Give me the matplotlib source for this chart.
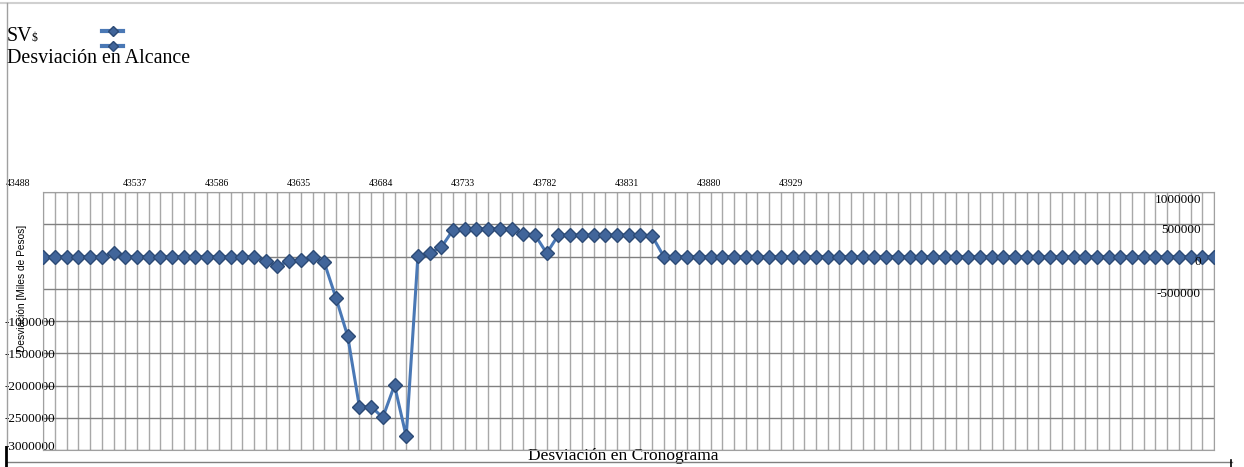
import numpy as np
import matplotlib
matplotlib.use("Agg")
from matplotlib import pyplot as plt
from matplotlib.lines import Line2D
from matplotlib.transforms import ScaledTranslation

# weekly deviation values (pesos)
desviacion = [0, 0, 0, 0, 0, 0, 50000, 0, 0, 0,
              0, 0, 0, 0, 0, 0, 0, 0, 0, -75000,
              -140000, -77000, -62000, -15000, -93000, -643000, -1235000, -2330000, -2330000, -2495000,
              -1996000, -2790000, 10000, 51000, 144000, 412000, 432000, 432000, 432000, 432000,
              432000, 350000, 335000, 51000, 335000, 335000, 335000, 335000, 335000, 335000,
              335000, 335000, 319000] + [0] * 48
week0 = 43482  # excel serial of first week
fechas = week0 + 7 * np.arange(len(desviacion))
top_ticks = [43488, 43537, 43586, 43635, 43684, 43733, 43782, 43831, 43880, 43929]
y_ticks = [1000000, 500000, 0, -500000, -1000000, -1500000, -2000000, -2500000, -3000000]
left_labels = ['', '', '', '', '-1000000', '-1500000', '-2000000', '-2500000', '-3000000']
right_labels = ['1000000', '500000', '0', '-500000', '', '', '', '', '']

W, H = 1244, 467
fig = plt.figure(figsize=(W / 100, H / 100), dpi=100)
ax = fig.add_axes([43.3 / W, 1 - 450 / H, (1214 - 43.3) / W, (450 - 192) / H])

serif = ['Liberation Serif', 'DejaVu Serif']
sans = ['Liberation Sans', 'DejaVu Sans']

ax.plot(fechas, desviacion, color='#4a78b5', lw=2.2, marker='D', ms=7.5,
        mfc='#41659a', mec='#2c4a75', mew=1, zorder=3)

ax.set_xlim(fechas[0], fechas[-1])
ax.set_ylim(-3000000, 1000000)

# vertical grid at every week, horizontal grid at every 500000
ax.set_xticks(fechas, minor=True)
ax.grid(True, which='minor', axis='x', color='#a8a8a8', lw=1)
ax.grid(False, which='major', axis='x')
ax.set_yticks(y_ticks, left_labels)
ax.grid(True, which='major', axis='y', color='#808080', lw=1)
for s in ax.spines.values():
    s.set_color('#a0a0a0')

ax.xaxis.tick_top()
ax.set_xticks(top_ticks, [str(t) for t in top_ticks])
ax.tick_params(axis='x', which='both', length=0, pad=3, labelsize=7)
for lbl in ax.get_xticklabels():
    lbl.set_fontfamily(serif)
first = ax.get_xticklabels()[0]
first.set_transform(first.get_transform() + ScaledTranslation(-0.35, 0, fig.dpi_scale_trans))

ax.tick_params(axis='y', length=0, pad=-8.6, labelsize=9.5)
for lbl in ax.get_yticklabels():
    lbl.set_fontfamily(serif)
last = ax.get_yticklabels()[-1]
last.set_transform(last.get_transform() + ScaledTranslation(0, 0.05, fig.dpi_scale_trans))

ax2 = ax.twinx()
ax2.set_ylim(ax.get_ylim())
ax2.set_yticks(y_ticks, right_labels)
ax2.tick_params(axis='y', length=0, pad=-9.4, labelsize=9.5)
for i, lbl in enumerate(ax2.get_yticklabels()):
    lbl.set_fontfamily(serif)
    lbl.set_horizontalalignment('right')
    dy = -0.07 if i == 0 else -0.04
    lbl.set_transform(lbl.get_transform() + ScaledTranslation(0, dy, fig.dpi_scale_trans))
for s in ax2.spines.values():
    s.set_visible(False)

ax.set_ylabel('Desviación [Miles de Pesos]', fontsize=7.3, family=sans)
ax.yaxis.set_label_coords(-0.0135, 0.628)
ax.set_xlabel('Desviación en Cronograma', fontsize=12.5, family=serif)
ax.xaxis.set_label_position('bottom')
ax.xaxis.set_label_coords(0.495, 0.008)

# legend-like header
fig.text(7 / W, 1 - 41 / H, 'SV', fontsize=14.4, family=serif, va='baseline')
fig.text(32 / W, 1 - 41 / H, '$', fontsize=8.5, family=serif, va='baseline')
fig.text(7 / W, 1 - 63 / H, 'Desviación en Alcance', fontsize=14.4, family=serif, va='baseline')
for yy in (31, 46):
    fig.add_artist(Line2D([102 / W, 112.5 / W, 123 / W], [1 - yy / H] * 3, color='#4a78b5', lw=3,
                          marker='D', ms=5, mfc='#41659a', mec='#2c4a75', markevery=[1]))

# outer frame pieces
fig.add_artist(Line2D([0, 1], [1 - 3 / H] * 2, color='#d0d0d0', lw=1.5))
fig.add_artist(Line2D([6.5 / W] * 2, [1 - 3 / H, 1 - 447 / H], color='#a0a0a0', lw=1))
fig.add_artist(Line2D([6 / W, 1232 / W], [1 - 462 / H] * 2, color='#808080', lw=1))
fig.add_artist(Line2D([5.5 / W] * 2, [1 - 447 / H, 0], color='black', lw=2))
fig.add_artist(Line2D([1231 / W] * 2, [1 - 460 / H, 0], color='black', lw=1.2))

fig.savefig('out.png', dpi=100)
